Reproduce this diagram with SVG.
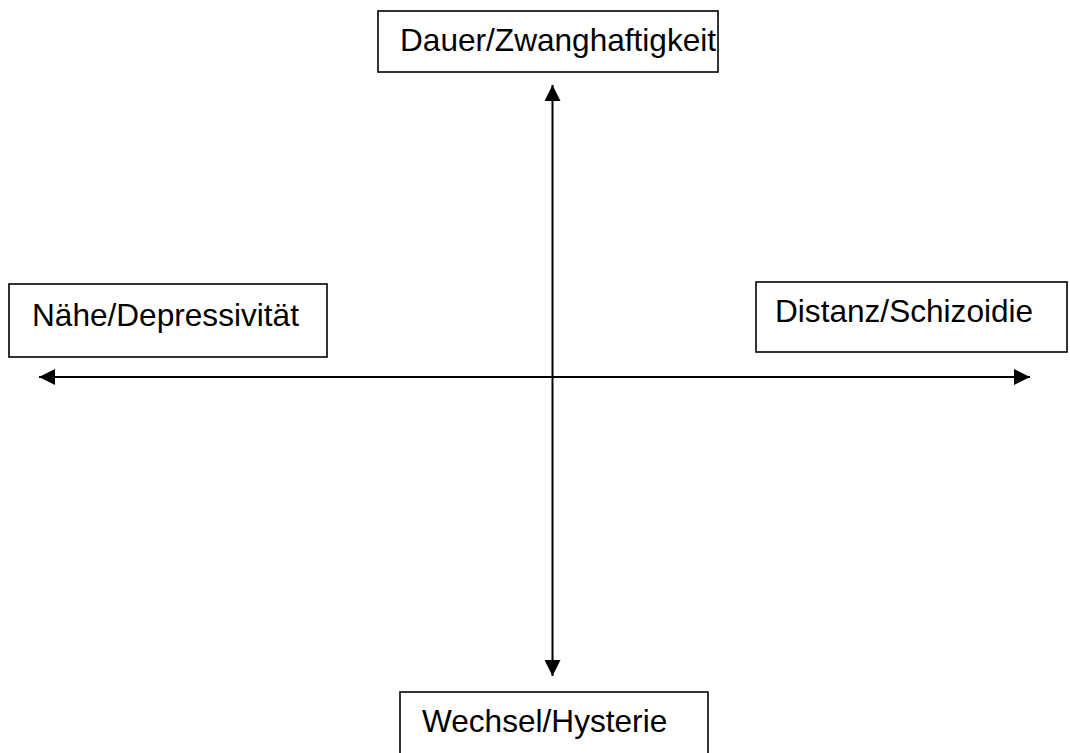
<svg xmlns="http://www.w3.org/2000/svg" width="1070" height="753" viewBox="0 0 1070 753">
<defs>
<style>
.box{fill:#fff;stroke:#000;stroke-width:1.6}
.lbl{font-family:"Liberation Sans",Arial,sans-serif;font-size:31.6px;fill:#000}
.ax{stroke:#000;stroke-width:2;fill:none}
</style>
<marker id="ah" viewBox="0 0 16 16" refX="16" refY="8" markerWidth="16" markerHeight="16" markerUnits="userSpaceOnUse" orient="auto-start-reverse">
<path d="M0,0 L16,8 L0,16 Z" fill="#000"/>
</marker>
</defs>
<rect width="1070" height="753" fill="#fff"/>
<g id="connectors">
<line class="ax" x1="552.5" y1="85" x2="552.5" y2="676" marker-start="url(#ah)" marker-end="url(#ah)"/>
<line class="ax" x1="39" y1="377" x2="1030" y2="377" marker-start="url(#ah)" marker-end="url(#ah)"/>
</g>
<g id="node-top">
<rect class="box" x="378" y="11" width="340" height="61"/>
<text class="lbl" x="400" y="51">Dauer/Zwanghaftigkeit</text>
</g>
<g id="node-left">
<rect class="box" x="9" y="284" width="318" height="73"/>
<text class="lbl" x="32" y="326">Nähe/Depressivität</text>
</g>
<g id="node-right">
<rect class="box" x="756" y="282" width="311" height="70"/>
<text class="lbl" x="775" y="322">Distanz/Schizoidie</text>
</g>
<g id="node-bottom">
<rect class="box" x="400" y="692" width="308" height="70"/>
<text class="lbl" x="422" y="732">Wechsel/Hysterie</text>
</g>
</svg>
